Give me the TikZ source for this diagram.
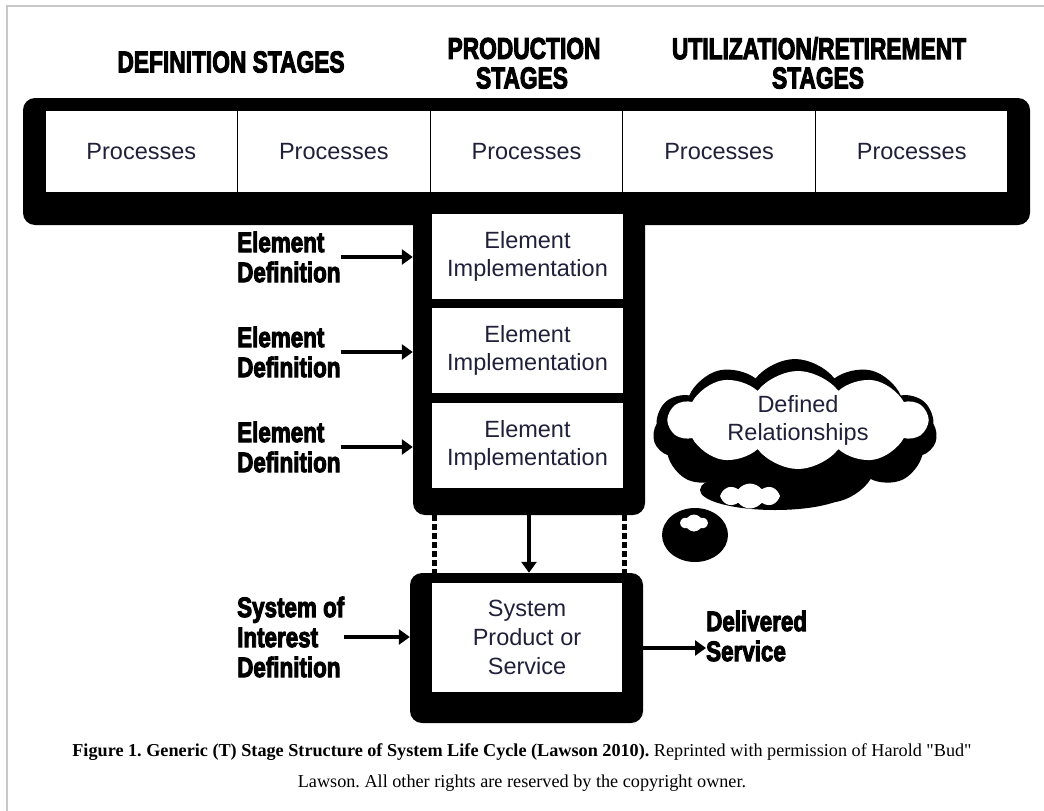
\documentclass[tikz,border=0pt]{standalone}
\usepackage{graphicx}
\usepackage{fontspec}
\setmainfont{Liberation Serif}[Ligatures=TeXOff]
\newfontfamily\sansf{Liberation Sans}
\newfontfamily\heavy[FakeBold=4]{Liberation Sans Bold}
\usetikzlibrary{arrows.meta,shapes.symbols}
\definecolor{txt}{RGB}{32,32,58}
\definecolor{framegray}{RGB}{200,200,200}
\newcommand{\hd}[1]{\scalebox{0.91}[1.2]{#1}}
\newcommand{\hs}[1]{\scalebox{0.80}[1]{#1}}
\frenchspacing
\tikzset{
  hdr/.style={font=\heavy\fontsize{25}{25}\selectfont, inner sep=0pt, align=center},
  lbl/.style={font=\heavy\fontsize{28}{30}\selectfont, inner sep=0pt, align=left, anchor=west},
  blackbox/.style={fill=black, draw=none, rounded corners=12pt, inner sep=0pt},
  cell/.style={draw=black, line width=1.2pt, fill=white, minimum width=192.6pt, minimum height=83pt, inner sep=0pt, font=\sansf\fontsize{23.5}{28}\selectfont, text=txt},
  ebox/.style={fill=white, draw=none, minimum width=191pt, minimum height=85pt, inner sep=0pt, align=center, font=\sansf\fontsize{23.5}{28}\selectfont, text=txt},
  arr/.style={line width=4pt, -{Triangle[length=11pt,width=15pt]}},
  dsh/.style={line width=5pt, dash pattern=on 6pt off 3pt},
  bigcloud/.style={cloud, cloud ignores aspect, inner sep=0pt, cloud puff arc=105},
}
\begin{document}
\begin{tikzpicture}[x=1pt,y=-1pt]
\useasboundingbox (0,0) rectangle (1044,811);
% page frame
\draw[framegray, line width=1.5pt] (7,811) -- (7,6) -- (1044,6);

% stage headers
\node[hdr] (hdef) at (231,62) {\hd{DEFINITION STAGES}};
\node[hdr] (hprod1) at (524,48.5) {\hd{PRODUCTION}};
\node[hdr] (hprod2) at (522,78) {\hd{STAGES}};
\node[hdr] (hutil1) at (819,48.5) {\hd{UTILIZATION/RETIREMENT}};
\node[hdr] (hutil2) at (818,78) {\hd{STAGES}};

% T frame
\node[blackbox, minimum width=1007pt, minimum height=127pt] (bar) at (526.5,161.5) {};
\node[blackbox, minimum width=232pt, minimum height=315pt] (col) at (529,357.5) {};

% process cells
\node[cell] (p1) at (141.3,151.5) {Processes};
\node[cell] (p2) at (333.9,151.5) {Processes};
\node[cell] (p3) at (526.5,151.5) {Processes};
\node[cell] (p4) at (719.1,151.5) {Processes};
\node[cell] (p5) at (911.7,151.5) {Processes};

% element implementation boxes
\node[ebox] (e1) at (527.5,256.5) {Element\\Implementation};
\node[ebox] (e2) at (527.5,350.5) {Element\\Implementation};
\node[ebox] (e3) at (527.5,445.5) {Element\\Implementation};

% element definition labels
\node[lbl] (d1) at (237,257) {\hs{Element}\\\hs{Definition}};
\node[lbl] (d2) at (237,352) {\hs{Element}\\\hs{Definition}};
\node[lbl] (d3) at (237,447) {\hs{Element}\\\hs{Definition}};
\draw[arr] (d1.east) -- (d1.east -| col.west);
\draw[arr] (d2.east) -- (d2.east -| col.west);
\draw[arr] (d3.east) -- (d3.east -| col.west);

% system box
\node[blackbox, minimum width=233pt, minimum height=150pt] (sysout) at (526.5,648) {};
\node[ebox, minimum width=190pt, minimum height=109pt, font=\sansf\fontsize{23.5}{29}\selectfont] (sys) at (527,637.5) {System\\Product or\\Service};

% connectors between column and system box
\coordinate (dL) at (434,0);
\coordinate (dR) at (624,0);
\draw[dsh] (dL |- col.south) -- (dL |- sysout.north);
\draw[dsh] (dR |- col.south) -- (dR |- sysout.north);
\draw[arr] (col.south) -- (col.south |- sysout.north);

% system of interest definition and delivered service
\node[lbl] (soi) at (237,637) {\hs{System of}\\\hs{Interest}\\\hs{Definition}};
\draw[arr] (soi.east) -- (soi.east -| sysout.west);
\node[lbl] (del) at (706,636) {\hs{Delivered}\\\hs{Service}};
\draw[arr] (sysout.east) -- (sysout.east -| del.west);

% thought cloud
\node[bigcloud, fill=black, cloud puffs=11, minimum width=284pt, minimum height=146pt] (cblack) at (795,432) {};
\fill[black] (775,490) ellipse (75pt and 20pt);
\fill[black] (695,535) ellipse (33pt and 27pt);
\node[bigcloud, fill=white, cloud puffs=10, minimum width=258pt, minimum height=98pt, align=center, font=\sansf\fontsize{23.5}{28}\selectfont, text=txt] (rel) at (798,420) {Defined\\Relationships};
\node[bigcloud, fill=white, cloud puffs=8, minimum width=60pt, minimum height=25pt] (b1) at (750,496) {};
\node[bigcloud, fill=white, cloud puffs=6, minimum width=27pt, minimum height=17pt] (b2) at (694,523) {};

% caption
\node[inner sep=0pt, align=center, font=\fontsize{18.2}{31}\selectfont] (cap) at (522,768) {\textbf{Figure 1. Generic (T) Stage Structure of System Life Cycle (Lawson 2010).} Reprinted with permission of Harold "Bud"\\Lawson. All other rights are reserved by the copyright owner.};
\end{tikzpicture}
\end{document}
